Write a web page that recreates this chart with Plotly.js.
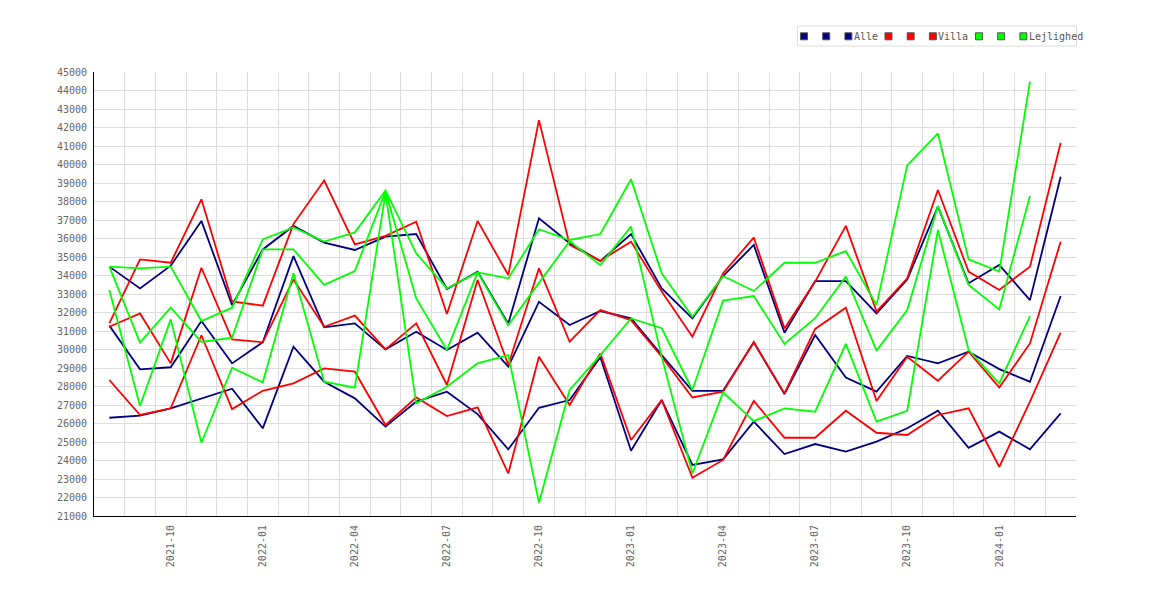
<!DOCTYPE html>
<html>
<head>
<meta charset="utf-8">
<script src="https://cdn.plot.ly/plotly-3.0.1.min.js"></script>
<style>
  body { margin: 0; background: #fff; }
  #graph { width: 1170px; height: 600px; }
</style>
</head>
<body>
<div id="graph"></div>
<script>
// maaneder (x-akse)
const months = ['2021-08', '2021-09', '2021-10', '2021-11', '2021-12',
    '2022-01', '2022-02', '2022-03', '2022-04', '2022-05', '2022-06', '2022-07',
    '2022-08', '2022-09', '2022-10', '2022-11', '2022-12', '2023-01', '2023-02',
    '2023-03', '2023-04', '2023-05', '2023-06', '2023-07', '2023-08', '2023-09',
    '2023-10', '2023-11', '2023-12', '2024-01', '2024-02', '2024-03'];

const alle1 = [34480, 33300, 34530, 36950, 32400, 35410, 36680, 35780, 35380, 36100, 36240, 33270, 34210, 31400, 37090, 35740,
    34780, 36240, 33300, 31680, 33970, 35650, 30910, 33700, 33700, 31950, 33790, 37720, 33580, 34570, 32670, 39340];
const alle2 = [31290, 28930, 29040, 31540, 29250, 30390, 35050, 31200, 31410, 30010, 30960, 29970, 30910, 29070, 32580, 31320,
    32080, 31680, 29700, 27760, 27770, 30390, 27590, 30780, 28480, 27720, 29650, 29250, 29880, 28940, 28260, 32890];
const alle3 = [26310, 26420, 26820, 27340, 27880, 25740, 30150, 28260, 27360, 25830, 27180, 27720, 26510, 24600, 26850, 27270,
    29580, 24530, 27270, 23760, 24060, 26100, 24350, 24890, 24480, 25020, 25740, 26690, 24690, 25560, 24600, 26550];

const villa1 = [31410, 34870, 34690, 38120, 32600, 32370, 36780, 39130, 35680, 36140, 36910, 31920, 36950, 34030, 42400, 35650,
    34800, 35830, 33130, 30690, 34120, 36050, 31140, 33670, 36680, 32050, 33850, 38620, 34210, 33220, 34480, 41180];
const villa2 = [31230, 31950, 29250, 34420, 30550, 30390, 33790, 31230, 31830, 30010, 31410, 28080, 33760, 29160, 34390, 30420,
    32130, 31590, 29610, 27410, 27720, 30390, 27630, 31110, 32260, 27220, 29610, 28310, 29880, 27950, 30330, 35830];
const villa3 = [28350, 26460, 26820, 30770, 26780, 27770, 28170, 28980, 28800, 25920, 27410, 26400, 26870, 23300, 29610, 27000,
    29790, 25110, 27270, 23070, 24030, 27220, 25230, 25230, 26690, 25500, 25380, 26460, 26820, 23660, 27180, 30910];

const lejl1 = [34480, 34390, 34480, 31540, 32260, 35950, 36600, 35830, 36330, 38600, 35200, 33300, 34170, 33850, 36500, 35920,
    36240, 39200, 34120, 31770, 33970, 33160, 34690, 34690, 35320, 32400, 39950, 41680, 34870, 34210, 44480, null];
const lejl2 = [34480, 30370, 32260, 30410, 30640, 35410, 35410, 33490, 34240, 38550, 32760, 29970, 34170, 31320, 33600, 35850,
    34570, 36640, 29600, 23300, 27680, 26130, 26820, 26640, 30300, 26100, 26690, 36460, 29970, 28170, 31810, null];
const lejl3 = [33220, 26950, 31630, 24960, 29020, 28220, 34120, 28260, 27940, 38450, 27090, 27990, 29250, 29700, 21720, 27810,
    29700, 31680, 31150, 27810, 32640, 32890, 30300, 31690, 33940, 29940, 32130, 37760, 33490, 32170, 38300, null];

const groupNames = ['Alle', 'Villa', 'Lejlighed'];
const groupColors = ['#000080', '#ff0000', '#00ff00'];
const groupSeries = [[alle1, alle2, alle3], [villa1, villa2, villa3], [lejl1, lejl2, lejl3]];

const xIdx = months.map((m, i) => i);
const tickIdx = xIdx.filter(i => /-(01|04|07|10)$/.test(months[i]));

const font = 'DejaVu Sans Mono, monospace';

function drawChart() {
    const data = [];
    groupSeries.forEach((series, g) => {
        series.forEach(s => {
            data.push({
                x: xIdx,
                y: s,
                mode: 'lines',
                type: 'scatter',
                line: { color: groupColors[g], width: 1.8 },
                showlegend: false,
                hoverinfo: 'skip'
            });
        });
    });

    // egen legend: smaa firkanter + tekst, ligesom originalen
    const L = 94, R = 1076, T = 72, B = 516;
    const px = x => (x - L) / (R - L);
    const py = y => (B - y) / (B - T);
    const shapes = [{
        type: 'rect', xref: 'paper', yref: 'paper',
        x0: px(797.5), x1: px(1076.5), y0: py(46), y1: py(26),
        fillcolor: '#ffffff', line: { color: '#dddddd', width: 1 }
    }];
    const notes = [];
    let lx = 804;
    groupSeries.forEach((series, g) => {
        series.forEach((s, j) => {
            shapes.push({
                type: 'rect', xref: 'paper', yref: 'paper',
                x0: px(lx - 3.5), x1: px(lx + 3.5), y0: py(39.8), y1: py(32.8),
                fillcolor: groupColors[g], line: { color: '#555555', width: 1 }
            });
            if (j < series.length - 1) {
                lx += 22.2;
            } else {
                notes.push({
                    text: groupNames[g], xref: 'paper', yref: 'paper',
                    x: px(lx + 3.5), y: py(36.5), xanchor: 'left', yanchor: 'middle',
                    showarrow: false, font: { family: font, size: 10, color: '#555555' }
                });
                lx += 16 + groupNames[g].length * 6.02;
            }
        });
    });

    const layout = {
        width: 1170,
        height: 600,
        paper_bgcolor: '#ffffff',
        plot_bgcolor: '#ffffff',
        margin: { l: L, r: 1170 - R, t: T, b: 600 - B, pad: 0 },
        showlegend: false,
        font: { family: font, size: 10, color: '#666666' },
        xaxis: {
            range: [-0.5, 31.5],
            tickmode: 'array',
            tickvals: tickIdx,
            ticktext: tickIdx.map(i => months[i]),
            tickangle: -90,
            showgrid: false,
            zeroline: false,
            showline: true,
            linecolor: '#000000',
            linewidth: 1,
            ticks: '',
            ticklabelstandoff: 4,
            tickfont: { family: font, size: 10, color: '#666666' },
            minor: { tickmode: 'linear', tick0: 0.5, dtick: 1, showgrid: true, gridcolor: '#dddddd', gridwidth: 1 }
        },
        yaxis: {
            range: [21000, 45000],
            tick0: 21000,
            dtick: 1000,
            tickformat: 'd',
            gridcolor: '#dddddd',
            gridwidth: 1,
            zeroline: false,
            showline: true,
            linecolor: '#000000',
            linewidth: 1,
            ticks: '',
            ticklabelstandoff: 4,
            tickfont: { family: font, size: 10, color: '#666666' }
        },
        shapes: shapes,
        annotations: notes
    };

    Plotly.newPlot('graph', data, layout, { displayModeBar: false, staticPlot: true });
}

drawChart();
</script>
</body>
</html>
